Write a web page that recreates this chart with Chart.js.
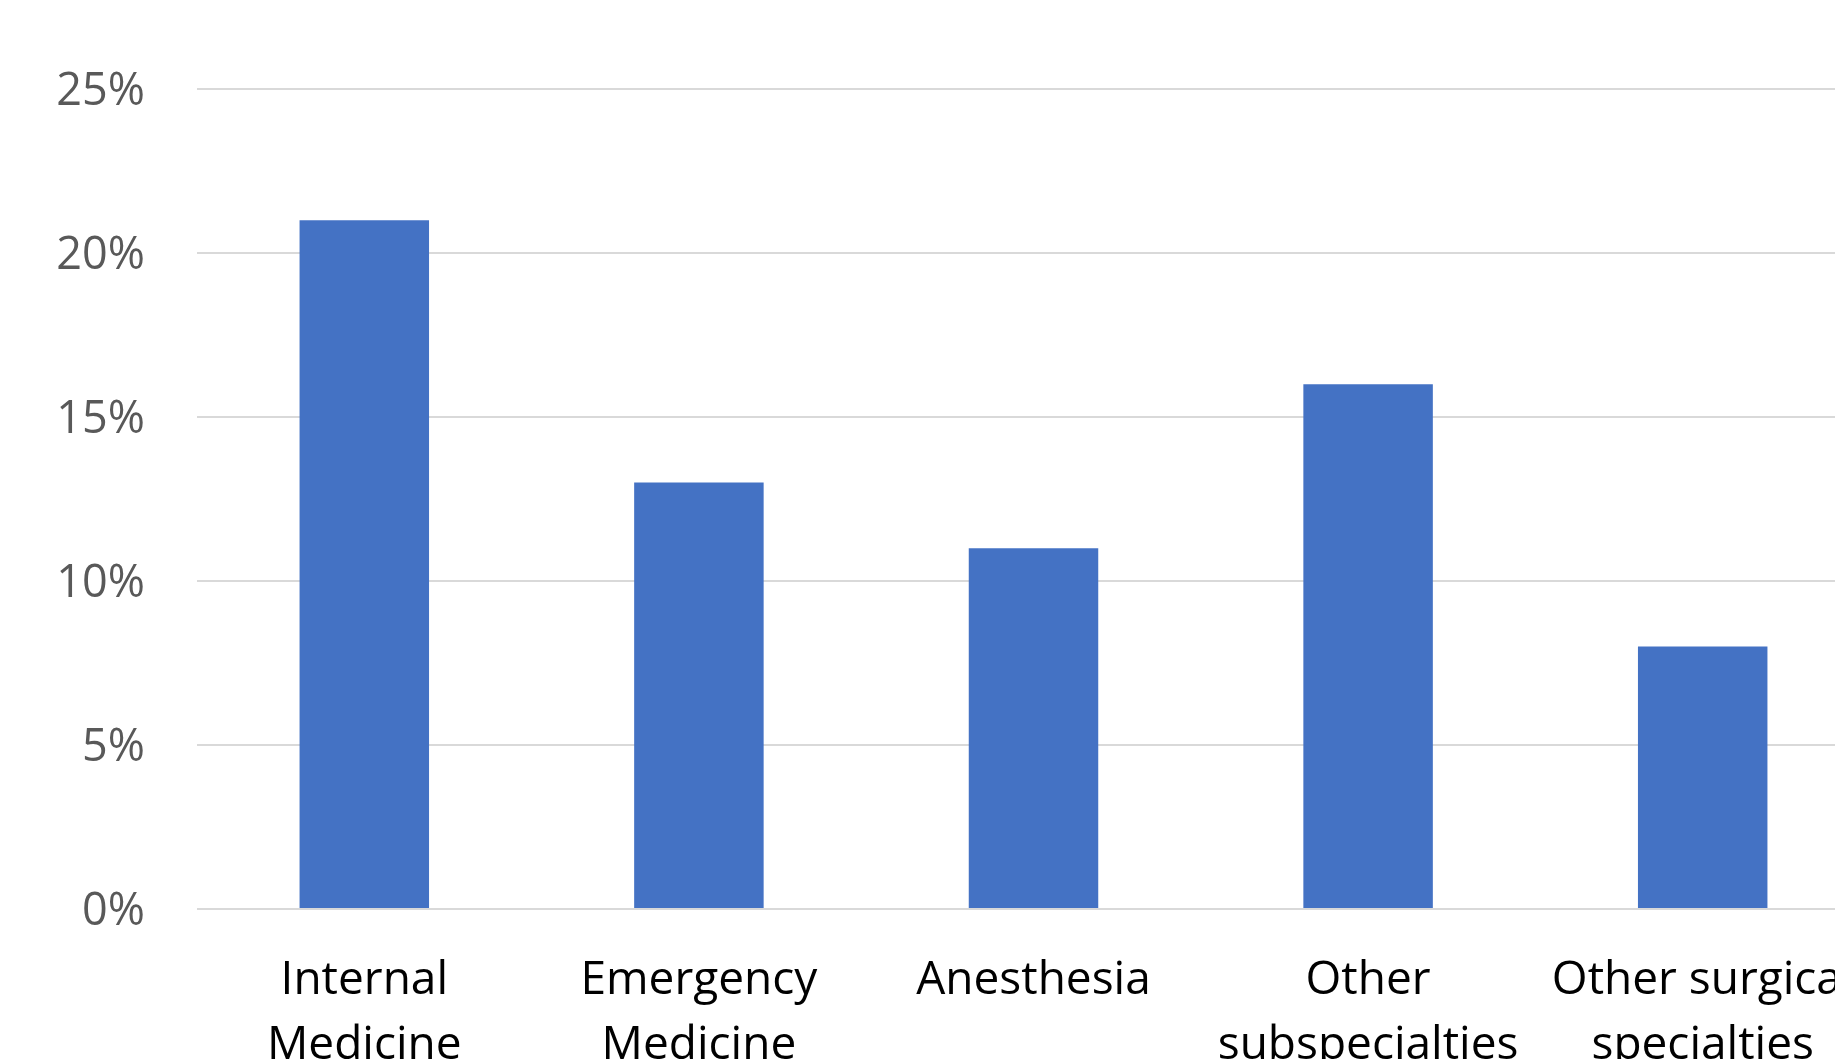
<!DOCTYPE html>
<html>
<head>
<meta charset="utf-8">
<script src="https://cdn.jsdelivr.net/npm/chart.js@4/dist/chart.umd.min.js"></script>
<style>
  html, body { margin: 0; padding: 0; background: #ffffff; overflow: hidden; }
  #wrap { position: relative; width: 1870px; height: 1059px; }
</style>
</head>
<body>
<div id="wrap"><canvas id="chart"></canvas></div>
<script>
// Share of respondents by specialty
const categories = [
  ["Internal", "Medicine"],
  ["Emergency", "Medicine"],
  ["Anesthesia"],
  ["Other", "subspecialties"],
  ["Other surgical", "specialties"]
];
const shares = [21, 13, 11, 16, 8];
const yTicks = [0, 5, 10, 15, 20, 25];

const FONT = "'Open Sans', 'Noto Sans', sans-serif";

new Chart(document.getElementById('chart'), {
  type: 'bar',
  data: {
    labels: categories,
    datasets: [{
      data: shares,
      backgroundColor: '#4472C4',
      borderWidth: 0,
      categoryPercentage: 1,
      barPercentage: 0.387
    }]
  },
  options: {
    responsive: true,
    maintainAspectRatio: false,
    animation: false,
    layout: { padding: { top: 89, left: 0, right: 0, bottom: 0 } },
    plugins: {
      legend: { display: false },
      tooltip: { enabled: false },
      title: { display: false }
    },
    scales: {
      x: {
        grid: { display: false, drawTicks: false },
        border: { display: false },
        ticks: {
          color: '#000000',
          font: { family: FONT, size: 46, lineHeight: 1.4 },
          padding: 40,
          maxRotation: 0,
          minRotation: 0,
          autoSkip: false
        },
        afterFit(scale) {
          // the plot area runs to the canvas edge; labels may overflow it
          scale.height = 1059 - 909;
          scale.paddingLeft = 0;
          scale.paddingRight = 0;
        }
      },
      y: {
        min: 0,
        max: 25,
        afterBuildTicks(scale) { scale.ticks = yTicks.map(v => ({ value: v })); },
        grid: { color: '#D9D9D9', lineWidth: 2, drawTicks: false },
        border: { display: false },
        ticks: {
          color: '#595959',
          font: { family: FONT, size: 45 },
          padding: 52,
          labelOffset: 3,
          callback: v => v + '%'
        },
        afterFit(scale) { scale.width = 197; }
      }
    }
  }
});
</script>
</body>
</html>
